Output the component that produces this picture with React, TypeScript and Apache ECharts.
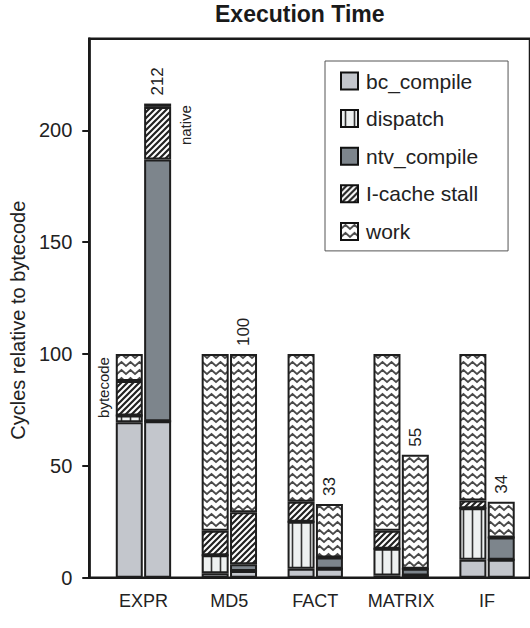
import React, { useEffect, useRef } from "react";
import * as echarts from "echarts";

const categories = ["EXPR", "MD5", "FACT", "MATRIX", "IF"];
const seriesNames = ["bc_compile", "dispatch", "ntv_compile", "I-cache stall", "work"];

// "bytecode" bars (left of each pair)
const bcCompileBytecode = [69.5, 2, 4, 1, 8];
const dispatchBytecode = [3, 8, 21, 12, 23];
const ntvCompileBytecode = [0, 0, 0, 0, 0];
const icacheBytecode = [15.5, 11, 9, 8, 3.5];
const workBytecode = [12, 79, 66, 79, 65.5];

// "native" bars (right of each pair)
const bcCompileNative = [70, 3, 4, 1, 8];
const dispatchNative = [0, 0, 0, 0, 0];
const ntvCompileNative = [117, 3, 5, 3, 10];
const icacheNative = [23.5, 23.3, 0, 0, 0];
const workNative = [1.5, 70.7, 24, 51, 16];
const nativeTotals = [212, 100, 33, 55, 34];

const yTicks = [0, 50, 100, 150, 200];
const yMax = 241;

const FONT = "'Liberation Sans', Arial, Helvetica, sans-serif";

function makeTile(w: number, h: number, draw: (ctx: CanvasRenderingContext2D) => void) {
  const c = document.createElement("canvas");
  c.width = w;
  c.height = h;
  const ctx = c.getContext("2d") as CanvasRenderingContext2D;
  draw(ctx);
  return { image: c, repeat: "repeat", imageWidth: w, imageHeight: h } as any;
}

export default function App() {
  const ref = useRef<HTMLDivElement>(null);
  useEffect(() => {
    if (!ref.current) return;
    const chart = echarts.init(ref.current, null, { renderer: "svg" });

    const bcFill = "#c3c6cc";
    const ntvFill = "#7d858c";
    const dispatchFill = makeTile(9, 9, (ctx) => {
      ctx.fillStyle = "#eef1f1";
      ctx.fillRect(0, 0, 9, 9);
      ctx.strokeStyle = "#333";
      ctx.lineWidth = 1.6;
      ctx.beginPath();
      ctx.moveTo(4.5, 0);
      ctx.lineTo(4.5, 9);
      ctx.stroke();
    });
    const icacheFill = makeTile(6, 6, (ctx) => {
      ctx.fillStyle = "#ffffff";
      ctx.fillRect(0, 0, 6, 6);
      ctx.strokeStyle = "#222";
      ctx.lineWidth = 2.2;
      ctx.beginPath();
      ctx.moveTo(0, 6);
      ctx.lineTo(6, 0);
      ctx.moveTo(-1, 1);
      ctx.lineTo(1, -1);
      ctx.moveTo(5, 7);
      ctx.lineTo(7, 5);
      ctx.stroke();
    });
    const workFill = makeTile(9, 8, (ctx) => {
      ctx.fillStyle = "#ffffff";
      ctx.fillRect(0, 0, 9, 8);
      ctx.strokeStyle = "#4a4a4a";
      ctx.lineWidth = 1.8;
      ctx.beginPath();
      ctx.moveTo(-4.5, 2);
      ctx.lineTo(0, 6);
      ctx.lineTo(4.5, 2);
      ctx.lineTo(9, 6);
      ctx.lineTo(13.5, 2);
      ctx.stroke();
    });
    const fills = [bcFill, dispatchFill, ntvFill, icacheFill, workFill];

    const bytecodeData = [bcCompileBytecode, dispatchBytecode, ntvCompileBytecode, icacheBytecode, workBytecode];
    const nativeData = [bcCompileNative, dispatchNative, ntvCompileNative, icacheNative, workNative];

    const base = (name: string, stack: string, data: any[], color: any) => ({
      type: "bar",
      name,
      stack,
      stackStrategy: "all",
      data,
      barWidth: 27,
      barGap: "5%",
      xAxisIndex: 0,
      yAxisIndex: 0,
      silent: true,
      itemStyle: { color, borderColor: "#1e1e1e", borderWidth: 2 },
      emphasis: { disabled: true },
    });

    const series: any[] = [];
    seriesNames.forEach((name, k) => {
      let data: any[] = bytecodeData[k];
      if (k === 4) {
        data = workBytecode.map((v, i) =>
          i === 0
            ? {
                value: v,
                label: {
                  show: true,
                  formatter: "bytecode",
                  position: [-5, 3],
                  rotate: 90,
                  align: "right",
                  verticalAlign: "bottom",
                  fontSize: 15,
                  fontFamily: FONT,
                  color: "#222",
                },
              }
            : v
        );
      }
      series.push(base(name, "bytecode", data, fills[k]));
    });
    seriesNames.forEach((name, k) => {
      let data: any[] = nativeData[k];
      if (k === 4) {
        data = workNative.map((v, i) =>
          i === 0
            ? {
                value: v,
                label: {
                  show: true,
                  formatter: "native",
                  position: [34, 1.5],
                  rotate: 90,
                  align: "right",
                  verticalAlign: "top",
                  fontSize: 15,
                  fontFamily: FONT,
                  color: "#222",
                },
              }
            : v
        );
      }
      series.push(base(name, "native", data, fills[k]));
    });
    series.push({
      type: "bar",
      name: "total",
      stack: "native",
      stackStrategy: "all",
      data: nativeTotals.map(() => 0),
      barWidth: 27,
      barGap: "5%",
      xAxisIndex: 0,
      yAxisIndex: 0,
      silent: true,
      itemStyle: { color: "transparent", borderWidth: 0 },
      label: {
        show: true,
        position: "top",
        distance: 8,
        rotate: 90,
        align: "left",
        verticalAlign: "middle",
        fontSize: 17,
        fontFamily: FONT,
        color: "#222",
        formatter: (p: any) => String(nativeTotals[p.dataIndex]),
      },
    });

    chart.setOption({
      animation: false,
      backgroundColor: "#ffffff",
      title: {
        text: "Execution Time",
        left: 215,
        top: 2,
        padding: 0,
        textStyle: { fontSize: 23, fontWeight: "bold", color: "#1a1a1a", fontFamily: FONT },
      },
      legend: {
        orient: "vertical",
        left: 325,
        top: 61,
        itemWidth: 17,
        itemHeight: 17,
        itemGap: 16.6,
        padding: [9.5, 30, 9, 15],
        borderColor: "#555",
        borderWidth: 1,
        backgroundColor: "#ffffff",
        icon: "rect",
        selectedMode: false,
        data: seriesNames,
        itemStyle: { borderColor: "#111", borderWidth: 2 },
        textStyle: { fontSize: 21, color: "#222", fontFamily: FONT, padding: [0, 0, 0, 3] },
      },
      grid: [
        { left: 100.5, top: 38.7, width: 435, height: 539 },
        {
          left: 89,
          top: 38.7,
          width: 480,
          height: 539,
          show: true,
          borderColor: "#1a1a1a",
          borderWidth: 2.5,
          backgroundColor: "transparent",
        },
      ],
      xAxis: [
        {
          type: "category",
          gridIndex: 0,
          data: categories,
          axisLine: { show: false },
          axisTick: { show: false },
          axisLabel: { interval: 0, fontSize: 18, color: "#222", margin: 14, fontFamily: FONT },
        },
        { type: "value", gridIndex: 1, show: false, min: 0, max: 1 },
      ],
      yAxis: [
        { type: "value", gridIndex: 0, min: 0, max: yMax, show: false },
        {
          type: "value",
          gridIndex: 1,
          min: 0,
          max: yMax,
          name: "Cycles relative to bytecode",
          nameLocation: "middle",
          nameGap: 54,
          nameTextStyle: { fontSize: 20, color: "#222", fontFamily: FONT, padding: [0, 24, 0, 0] },
          axisLine: { show: true, lineStyle: { color: "#1a1a1a", width: 2.5 } },
          axisTick: { show: true, inside: false, length: 7, customValues: yTicks, lineStyle: { color: "#1a1a1a", width: 2 } },
          axisLabel: { customValues: yTicks, fontSize: 20, margin: 17, color: "#222", fontFamily: FONT },
          splitLine: { show: false },
        },
      ],
      series,
    });
    return () => chart.dispose();
  }, []);
  return <div ref={ref} style={{ position: "fixed", left: 0, top: 0, width: 530, height: 628 }} />;
}
